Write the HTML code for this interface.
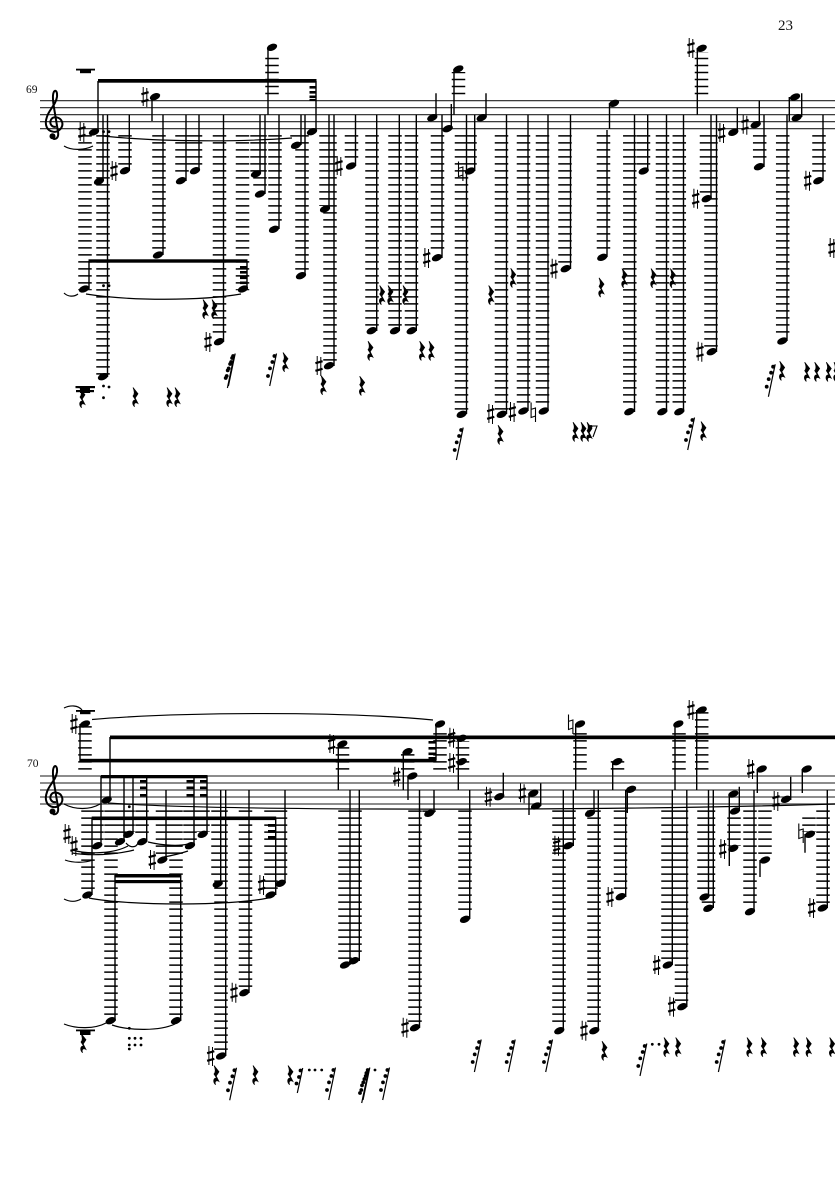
<!DOCTYPE html>
<html>
<head>
<meta charset="utf-8">
<style>
html,body{margin:0;padding:0;background:#fff}
svg{display:block}
text{font-family:"Liberation Serif",serif;fill:#111}
</style>
</head>
<body>
<svg width="835" height="1181" viewBox="0 0 835 1181" xmlns="http://www.w3.org/2000/svg">
<defs>
<ellipse id="h" rx="5.4" ry="3.3" transform="rotate(-22)" fill="#000"/>
<g id="s" fill="none" stroke="#000"><path d="M-1.8-10V9M1.8-9V10" stroke-width="1"/><path d="M-3.600-2.800L3.600-4.800M-3.600 4.800L3.600 2.800" stroke-width="2.200"/></g>
<path id="n" d="M-2.200-9.500V5.500L2.200 4M-2.200-2.600L2.200-4V10" fill="none" stroke="#000" stroke-width="1.100"/>
<path id="r" d="M-2-9.500L3-3.200L.2 1L3 6.500C.4 5-1.800 6-.4 9.800C-3 7.400-3.200 3.200.6 3L-2-1C-.2-3-.2-5.400-2-9.500Z" fill="#000" stroke="#000" stroke-width=".7"/>
<g id="f"><path d="M3.500-16.500L-3.300 16" stroke="#000" stroke-width="1.200" fill="none"/><circle cx="1.400" cy="-14" r="1.900"/><circle cx="-.6" cy="-8" r="1.900"/><circle cx="-3" cy="-1.600" r="1.900"/><circle cx="-5" cy="6" r="1.900"/></g>
<g id="c"><path d="M2 5C-2 6-5 2-3-2C-1-6 6-5 8 0C10 6 4 11-1 10C-7 9-10 3-7-5C-5-12 2-17 3-25C3.500-31 1-32 0-30C-2-27-1-20 0-14L4 10C5 16 2 18-1 17" fill="none" stroke="#000" stroke-width="2"/><circle cx="-1.500" cy="14.500" r="3"/></g>
</defs>

<text x="778" y="30" font-size="15">23</text>
<text x="26" y="93" font-size="11.500">69</text>
<text x="27" y="767" font-size="11.500">70</text>

<!-- staff lines -->
<path d="M40 100.700H835M40 107.700H835M40 114.700H835M40 121.700H835M40 128.700H835" stroke="#222" stroke-width="1.200" fill="none"/>
<path d="M40 776H835M40 783H835M40 790H835M40 797H835M40 804H835" stroke="#666" stroke-width="1.600" fill="none"/>
<use href="#c" x="54" y="121.700"/>
<use href="#c" x="54" y="797"/>

<!-- ledger columns, staff 1 -->
<path fill="none" stroke="#000" stroke-width="13.500" stroke-dasharray="1.500 5.500" d="M85 135.100V290.300M103 135.100V378M125 135.100V167M159 135.100V250M182 135.100V177M195.500 135.100V167M219.500 135.100V338M242.500 135.100V290.300M257 135.100V174M260 135.100V191M275 135.100V226M297 135.100V142M302 135.100V273M326 135.100V206M330 135.100V362M351.500 135.100V162M372 135.100V327M395 135.100V327M411.500 135.100V327M437.500 135.100V254M461.500 135.100V411M501.500 135.100V411M523.500 135.100V408M542.500 135.100V408M565 135.100V265M470 135.100V167M603.500 135.100V254M629.800 135.100V408M643.500 135.100V167M662.500 135.100V408M679.300 135.100V408M706.500 135.100V195M711 135.100V348M759.700 135.100V163M782.700 135.100V338M819 135.100V177M272 94.300V53M458.500 94.300V72M701.500 94.300V52"/>
<!-- ledger columns, staff 2 -->
<path fill="none" stroke="#000" stroke-width="13.500" stroke-dasharray="1.500 5.500" d="M88 810.400V891M97 810.400V842M111 810.400V1017M120 810.400V838M128 810.400V832M142 810.400V838M162.500 810.400V857M176 810.400V1017M190 810.400V842M203 810.400V832M218 810.400V880M221 810.400V1052M245.500 810.400V989M271 810.400V891M280.500 810.400V880M345 810.400V961M355 810.400V957M415 810.400V1024M429 810.400V812M465 810.400V915M559 810.400V1027M569 810.400V842M594 810.400V1027M620.500 810.400V893M668 810.400V961M681.500 810.400V1003M704 810.400V893M708.500 810.400V905M750 810.400V908M765 810.400V857M823 810.400V905M734 817.400V846M809 817.400V832M85 769.600V726M342.500 769.600V747M407.700 769.600V754M440 769.600V733M462.500 769.600V741M580 769.600V733M617.500 769.600V761M679 769.600V733M701.700 769.600V712"/>

<!-- stems, staff 1 -->
<path fill="none" stroke="#000" stroke-width="1.400" d="M98 81V132M103 114.700V181M107.500 114.700V377M129.300 114.700V171M152 97V121M163 114.700V255M186 114.700V181M199 114.700V171M223.500 114.700V342M260 114.700V174M265 114.700V194M268 47V114.700M279 114.700V229M301 114.700V145M305 114.700V276M316 81V131M329 114.700V209M334 114.700V366M355.500 114.700V166M376.700 114.700V331M399.300 114.700V331M416.300 114.700V331M442 114.700V258M436 93.300V117M451.300 104V128M454 69V114.700M486 93.300V117M466.500 114.700V414M474.700 114.700V171M506.500 114.700V414M528 114.700V411M548 114.700V411M570.500 114.700V269M607 130V257M609.500 103V128.700M634.500 114.700V412M647.700 114.700V171M666.500 114.700V412M683.500 114.700V412M697.300 48V114.700M711 114.700V199M716.500 114.700V352M737.300 107.700V132M759.300 100.700V124M764 114.700V167M787 114.700V341M789.300 97V121M801.700 93.300V117M823 114.700V181M89 261V289M247 261V289"/>
<!-- stems, staff 2 -->
<path fill="none" stroke="#000" stroke-width="1.400" d="M80 724V762M110 737V800M101 776V846M124 776V842M133 776V834M146.700 776V842M194 776V846M207 776V834M166 790V860M92 818V895M115 875V1021M180.700 875V1021M220.700 790V884M225.700 790V1056M249 790V993M275.700 818V895M285 790V883M338.300 744V790M350 790V965M359.300 790V961M403.300 752V790M408 776V800M419.500 790V1028M436 724V760M458.300 738V790M469.700 790V919M434 790V813M503.300 772.700V797M529 793V815M540.700 783.300V806M563.300 790V1031M573.300 790V846M575.700 724V790M594 790V813M598.300 790V1031M612.700 762V790M625.700 790V897M627.300 789V813M672.300 790V965M675 724V790M686.800 790V1007M696.700 710V790M708.500 790V897M713.300 790V908M729.300 794V866M739.300 786.700V811M754 790V912M757.300 769V793M760 860V877M790.700 776.700V800M802.300 769V793M805 834V852.700M827.300 790V908"/>

<!-- beams -->
<g fill="#000">
<rect x="98" y="79" width="218.500" height="3.700"/>
<rect x="88.500" y="259.300" width="159" height="3.400"/>
<rect x="309.500" y="86" width="7" height="2.600"/><rect x="309.500" y="91" width="7" height="2.600"/><rect x="309.500" y="95.500" width="7" height="2.600"/><rect x="309.500" y="99" width="7" height="2"/>
<rect x="240" y="266" width="7.500" height="2.600"/><rect x="240" y="271" width="7.500" height="2.600"/><rect x="240" y="276.500" width="7.500" height="2.600"/><rect x="240" y="281.500" width="7.500" height="2.600"/>
<rect x="76" y="68.700" width="19" height="1.800"/><rect x="80" y="70" width="11" height="3.200"/>
<rect x="75.500" y="386" width="19.500" height="2.200"/><rect x="76" y="390" width="18" height="2.200"/><rect x="80" y="388" width="10" height="5"/>
<rect x="76" y="710" width="19" height="1.800"/><rect x="80" y="711" width="10.500" height="3.200"/>
<rect x="76" y="1029.500" width="19" height="1.800"/><rect x="80" y="1031" width="10.500" height="4"/>
<rect x="110" y="735.500" width="725" height="3.700"/>
<rect x="80" y="758.800" width="356.500" height="3.600"/>
<rect x="101" y="775" width="106.500" height="3.300"/>
<rect x="91.700" y="816.500" width="184.500" height="3.600"/>
<rect x="115" y="874" width="66" height="3.500"/><rect x="115" y="880" width="66" height="3.200"/>
<rect x="140" y="780" width="6.700" height="2.700"/><rect x="140" y="786.500" width="6.700" height="2.700"/><rect x="140" y="794" width="6.700" height="2.700"/>
<rect x="186.500" y="780" width="7.500" height="2.700"/><rect x="186.500" y="786.500" width="7.500" height="2.700"/><rect x="186.500" y="794" width="7.500" height="2.700"/>
<rect x="200" y="780" width="7.300" height="2.700"/><rect x="200" y="786.500" width="7.300" height="2.700"/><rect x="200" y="794" width="7.300" height="2.700"/>
<rect x="268" y="824" width="7.700" height="2.800"/><rect x="268" y="830" width="7.700" height="2.800"/><rect x="268" y="836" width="7.700" height="2.800"/>
<rect x="428.500" y="741" width="7.500" height="2.600"/><rect x="428.500" y="747" width="7.500" height="2.600"/><rect x="428.500" y="752.500" width="7.500" height="2.600"/><rect x="428.500" y="757" width="7.500" height="2.600"/>
</g>

<!-- ties -->
<g fill="none" stroke="#000" stroke-width="1.200">
<path d="M103 136C160 142 240 142 292 138"/>
<path d="M64 146C72 151 85 150 93 146"/>
<path d="M64 293C68 297 74 297 78 294"/>
<path d="M86 294C130 301 200 301 241 294"/>
<path d="M92 719.500C180 712 340 711 433 720"/>
<path d="M64 708C70 705 78 705 82 710"/>
<path d="M108 803C220 811 600 811 835 804"/>
<path d="M64 804C75 810 90 810 100 804"/>
<path d="M72 850C90 855 115 853 128 846"/>
<path d="M72 853C90 856 115 855 134 850"/>
<path d="M65 860C73 863 85 863 93 860"/>
<path d="M64 1024C76 1029 95 1029 106 1023"/>
<path d="M112 1025C130 1031 160 1031 175 1024"/>
<path d="M64 899C70 902 76 902 81 899"/>
<path d="M89 898C130 906 230 906 268 898"/>
<path d="M148 842C165 846 180 846 188 844"/>
<path d="M164 857C175 855 182 853 188 851"/>
<path d="M126 843C130 848 136 848 138 843"/>
</g>

<!-- note heads, staff 1 -->
<use href="#h" x="94" y="132"/><use href="#h" x="99" y="181.300"/><use href="#h" x="103" y="376.700"/><use href="#h" x="84" y="289"/><use href="#h" x="125" y="170.700"/><use href="#h" x="155" y="96.700"/><use href="#h" x="158" y="255"/><use href="#h" x="181" y="180.700"/><use href="#h" x="195" y="170.700"/><use href="#h" x="219" y="341.700"/><use href="#h" x="243" y="289"/><use href="#h" x="256" y="174"/><use href="#h" x="260" y="194"/><use href="#h" x="272" y="47.300"/><use href="#h" x="274" y="229.300"/><use href="#h" x="296" y="145.300"/><use href="#h" x="301" y="275.700"/><use href="#h" x="312" y="131.700"/><use href="#h" x="325" y="209"/><use href="#h" x="329" y="365.700"/><use href="#h" x="351" y="166"/><use href="#h" x="371.700" y="330.700"/><use href="#h" x="395" y="330.700"/><use href="#h" x="411.700" y="330.700"/><use href="#h" x="432.300" y="117.700"/><use href="#h" x="437" y="257.700"/><use href="#h" x="447.700" y="128.700"/><use href="#h" x="458.300" y="69"/><use href="#h" x="461.700" y="414.300"/><use href="#h" x="470" y="171"/><use href="#h" x="481.700" y="117.700"/><use href="#h" x="501.700" y="414.300"/><use href="#h" x="523.300" y="411"/><use href="#h" x="543.700" y="411"/><use href="#h" x="565.700" y="268.700"/><use href="#h" x="602.300" y="257.300"/><use href="#h" x="614" y="103.300"/><use href="#h" x="629.300" y="411.700"/><use href="#h" x="643.700" y="171"/><use href="#h" x="662.300" y="411.700"/><use href="#h" x="679.300" y="411.700"/><use href="#h" x="701.700" y="48.300"/><use href="#h" x="706.700" y="198.700"/><use href="#h" x="711.700" y="351.700"/><use href="#h" x="733.300" y="132.300"/><use href="#h" x="755.700" y="124.700"/><use href="#h" x="759" y="166.700"/><use href="#h" x="782.300" y="341"/><use href="#h" x="795" y="97"/><use href="#h" x="796.700" y="117.700"/><use href="#h" x="818.300" y="180.700"/>

<!-- note heads, staff 2 -->
<use href="#h" x="85" y="724"/><use href="#h" x="106.700" y="800"/><use href="#h" x="97.300" y="845.700"/><use href="#h" x="120" y="841.700"/><use href="#h" x="128.300" y="834.300"/><use href="#h" x="142.300" y="841.700"/><use href="#h" x="162.300" y="860"/><use href="#h" x="190" y="845.700"/><use href="#h" x="202.700" y="834.300"/><use href="#h" x="87.300" y="895"/><use href="#h" x="110.700" y="1020.700"/><use href="#h" x="176" y="1020.700"/><use href="#h" x="217.700" y="884"/><use href="#h" x="221" y="1056"/><use href="#h" x="244.300" y="992.700"/><use href="#h" x="270.500" y="895"/><use href="#h" x="280.700" y="883.300"/><use href="#h" x="342.300" y="744"/><use href="#h" x="345" y="965"/><use href="#h" x="354" y="960.700"/><use href="#h" x="407.500" y="751.700"/><use href="#h" x="412.300" y="776"/><use href="#h" x="415" y="1027.700"/><use href="#h" x="429.300" y="813.300"/><use href="#h" x="440" y="724"/><use href="#h" x="461.700" y="738.300"/><use href="#h" x="461.700" y="761.700"/><use href="#h" x="465" y="919.300"/><use href="#h" x="499.300" y="796.700"/><use href="#h" x="533.300" y="793.300"/><use href="#h" x="536" y="806"/><use href="#h" x="559.300" y="1030.700"/><use href="#h" x="568.300" y="845.700"/><use href="#h" x="580" y="724"/><use href="#h" x="590" y="813.300"/><use href="#h" x="594.300" y="1030.700"/><use href="#h" x="617.300" y="761.700"/><use href="#h" x="620.700" y="896.700"/><use href="#h" x="631" y="789.300"/><use href="#h" x="667.700" y="965"/><use href="#h" x="678.300" y="724"/><use href="#h" x="682.300" y="1006.700"/><use href="#h" x="701.700" y="710"/><use href="#h" x="704.500" y="897"/><use href="#h" x="708.300" y="908.300"/><use href="#h" x="733.300" y="794"/><use href="#h" x="733.300" y="848.300"/><use href="#h" x="735" y="811"/><use href="#h" x="750" y="911.700"/><use href="#h" x="761.700" y="769"/><use href="#h" x="765" y="860"/><use href="#h" x="786" y="799.300"/><use href="#h" x="806.700" y="769"/><use href="#h" x="810" y="834.300"/><use href="#h" x="822.700" y="908"/>

<!-- accidentals -->
<use href="#s" x="82" y="132"/><use href="#s" x="114" y="171"/><use href="#s" x="145" y="97"/><use href="#s" x="208" y="342"/><use href="#s" x="319" y="366"/><use href="#s" x="339" y="166"/><use href="#s" x="426.700" y="258"/><use href="#s" x="490.700" y="414"/><use href="#s" x="512.300" y="412"/><use href="#s" x="554" y="268.700"/><use href="#s" x="691" y="48"/><use href="#s" x="695.700" y="198.700"/><use href="#s" x="700" y="351.700"/><use href="#s" x="721.700" y="133"/><use href="#s" x="745" y="124.700"/><use href="#s" x="807.700" y="180.700"/><use href="#s" x="832" y="248"/>
<use href="#n" x="460.700" y="171"/><use href="#n" x="533.300" y="412"/>
<use href="#s" x="74" y="724"/><use href="#s" x="67" y="834"/><use href="#s" x="74" y="846"/><use href="#s" x="152.300" y="860"/><use href="#s" x="210.700" y="1056"/><use href="#s" x="234" y="992.700"/><use href="#s" x="261.700" y="885"/><use href="#s" x="331.700" y="744"/><use href="#s" x="396.700" y="776.700"/><use href="#s" x="405" y="1027.700"/><use href="#s" x="451.700" y="737.700"/><use href="#s" x="451.700" y="763"/><use href="#s" x="488.300" y="796.700"/><use href="#s" x="522.300" y="793.300"/><use href="#s" x="556.700" y="845.700"/><use href="#s" x="584" y="1030.700"/><use href="#s" x="610" y="897"/><use href="#s" x="656.700" y="965"/><use href="#s" x="671.700" y="1006.700"/><use href="#s" x="691" y="710"/><use href="#s" x="722.700" y="849"/><use href="#s" x="750.700" y="769"/><use href="#s" x="776" y="801"/><use href="#s" x="811.700" y="908"/>
<use href="#n" x="570.700" y="724"/><use href="#n" x="801" y="833"/>

<!-- rests -->
<use href="#r" x="82" y="398"/><use href="#r" x="135" y="397"/><use href="#r" x="169" y="397"/><use href="#r" x="177" y="397"/><use href="#r" x="205" y="309"/><use href="#r" x="214" y="309"/><use href="#r" x="285" y="362"/><use href="#r" x="323" y="385"/><use href="#r" x="361.700" y="385.700"/><use href="#r" x="370" y="350.700"/><use href="#r" x="381.700" y="295"/><use href="#r" x="390" y="295"/><use href="#r" x="405" y="295"/><use href="#r" x="421.700" y="350.700"/><use href="#r" x="431" y="350.700"/><use href="#r" x="490.700" y="295"/><use href="#r" x="500" y="434.700"/><use href="#r" x="512.700" y="277.700"/><use href="#r" x="575" y="431.700"/><use href="#r" x="583" y="431.700"/><use href="#r" x="589" y="431.700"/><use href="#r" x="601" y="287.300"/><use href="#r" x="624" y="278"/><use href="#r" x="653" y="278"/><use href="#r" x="672.300" y="278"/><use href="#r" x="703" y="431"/><use href="#r" x="781.700" y="370.700"/><use href="#r" x="806.700" y="371.700"/><use href="#r" x="816.700" y="371.700"/><use href="#r" x="828.300" y="371.700"/><use href="#r" x="836" y="371.700"/>
<use href="#r" x="83" y="1043"/><use href="#r" x="216" y="1075"/><use href="#r" x="255" y="1075"/><use href="#r" x="290" y="1075"/><use href="#r" x="604" y="1050.700"/><use href="#r" x="666" y="1047"/><use href="#r" x="677.700" y="1047"/><use href="#r" x="749" y="1047"/><use href="#r" x="763.300" y="1047"/><use href="#r" x="795.700" y="1047"/><use href="#r" x="808.300" y="1047"/><use href="#r" x="831.700" y="1047"/>
<path d="M590 426H597L593 437" fill="none" stroke="#000" stroke-width="1.100"/>
<circle cx="591" cy="426.500" r="1.500"/>

<!-- flagged rests -->
<use href="#f" x="231.700" y="370"/><use href="#f" x="230.700" y="372"/><use href="#f" x="273" y="370"/><use href="#f" x="459.700" y="444"/><use href="#f" x="691" y="434"/><use href="#f" x="771.700" y="380.700"/>
<use href="#f" x="233" y="1084.300"/><use href="#f" x="332" y="1084"/><use href="#f" x="366.300" y="1084"/><use href="#f" x="365" y="1087"/><use href="#f" x="386" y="1084"/><use href="#f" x="477.700" y="1056"/><use href="#f" x="511.700" y="1056"/><use href="#f" x="549" y="1056"/><use href="#f" x="643.300" y="1060"/><use href="#f" x="721.700" y="1056"/>
<path d="M302.700 1068L297.300 1093" stroke="#000" stroke-width="1.200"/>
<circle cx="300.500" cy="1070.500" r="1.900"/><circle cx="299" cy="1077" r="1.900"/><circle cx="296.500" cy="1083.500" r="1.900"/>

<!-- dots -->
<g fill="#000">
<circle cx="103.500" cy="131.700" r="1.400"/><circle cx="109" cy="131.700" r="1.400"/><circle cx="103.500" cy="285.700" r="1.400"/><circle cx="109" cy="285.700" r="1.400"/><circle cx="103.500" cy="386" r="1.400"/><circle cx="109" cy="387" r="1.400"/><circle cx="103.500" cy="397.700" r="1.400"/>
<circle cx="129.300" cy="806.700" r="1.400"/><circle cx="129.300" cy="1028.300" r="1.400"/><circle cx="129.300" cy="1038.300" r="1.400"/><circle cx="135" cy="1038.300" r="1.400"/><circle cx="141" cy="1038.300" r="1.400"/><circle cx="129.300" cy="1045" r="1.400"/><circle cx="135" cy="1045" r="1.400"/><circle cx="141" cy="1045" r="1.400"/><circle cx="129.300" cy="1049" r="1.400"/>
<circle cx="309.300" cy="1070" r="1.400"/><circle cx="315" cy="1070" r="1.400"/><circle cx="321.700" cy="1070" r="1.400"/><circle cx="375" cy="1070" r="1.400"/><circle cx="652.300" cy="1044.300" r="1.400"/><circle cx="659" cy="1044.300" r="1.400"/>
</g>
</svg>
</body>
</html>
